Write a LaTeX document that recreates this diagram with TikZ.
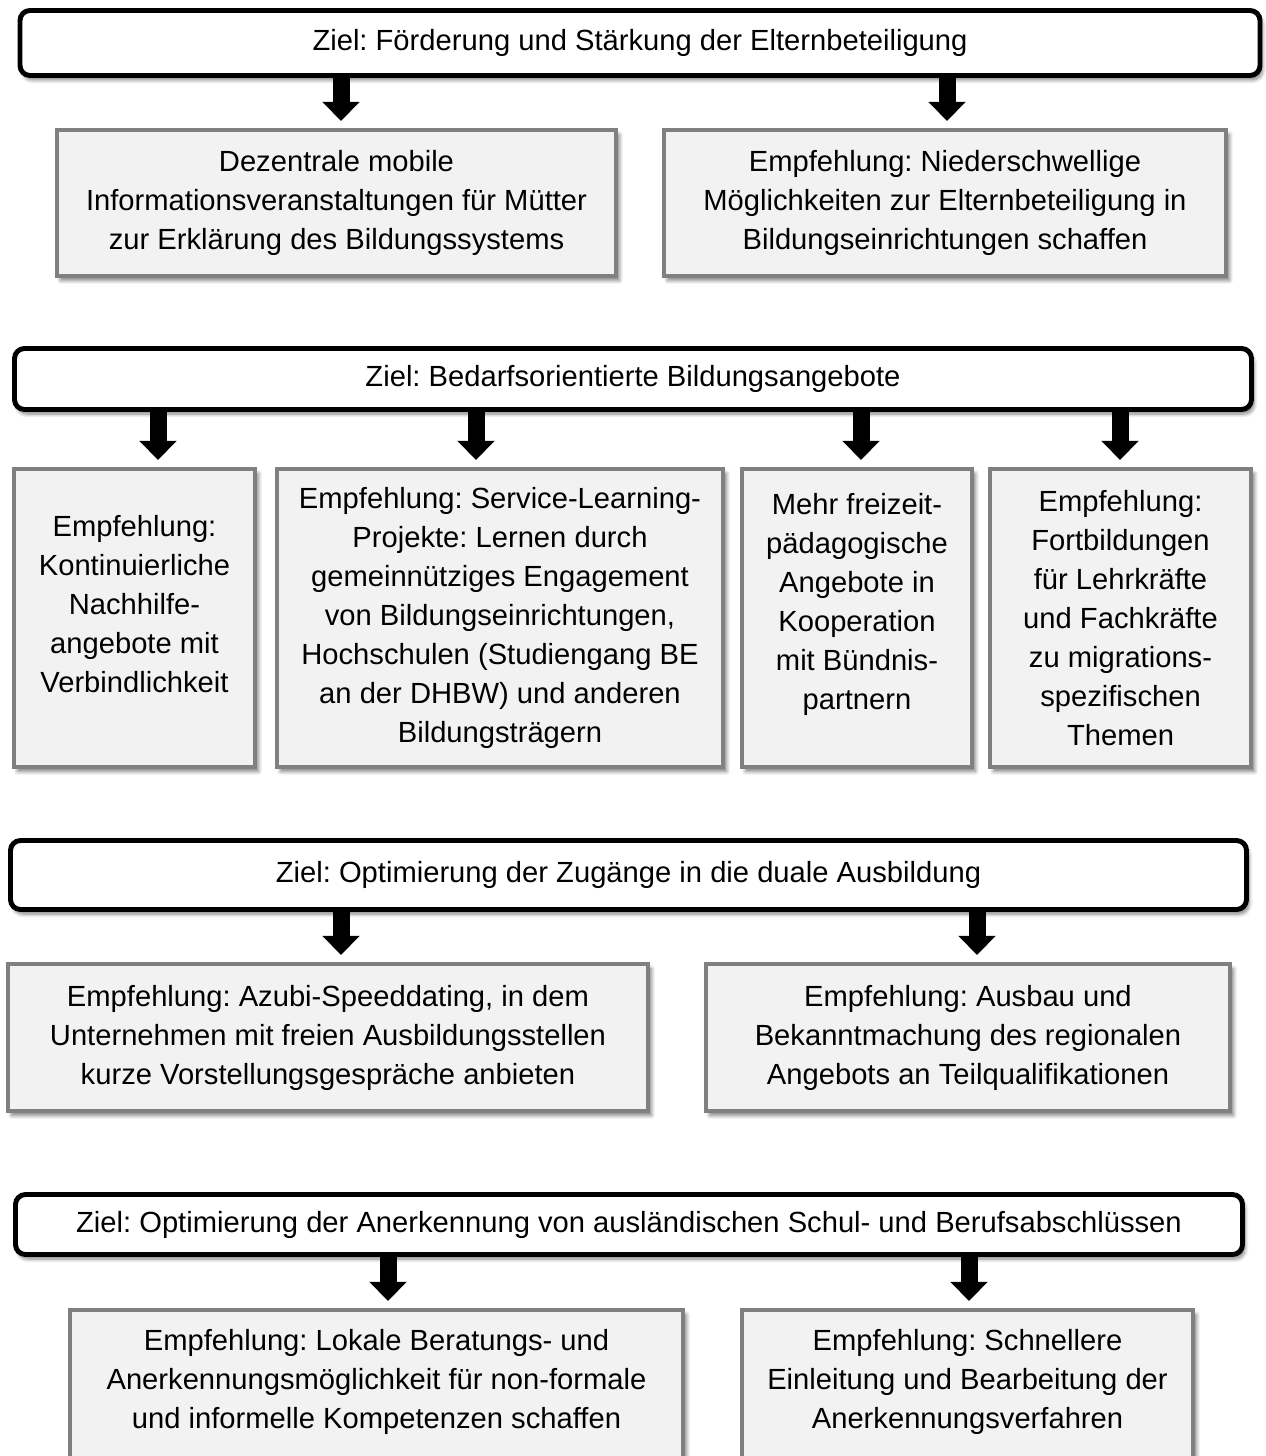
\documentclass[tikz,border=0pt]{standalone}
\usepackage{fontspec}
\setmainfont{Liberation Sans}
\usetikzlibrary{arrows.meta,shadows.blur}
\frenchspacing

\begin{document}
\begin{tikzpicture}[x=0.02cm,y=-0.02cm,
    every node/.style={font=\fontsize{16.6}{22.2}\selectfont, align=center, inner sep=0pt},
    zielbox/.style 2 args={draw=black, line width=2.8pt, rounded corners=0.2cm, fill=white,
        minimum width=#1*0.02cm, minimum height=#2*0.02cm,
        blur shadow={shadow xshift=0.05cm, shadow yshift=-0.09cm, shadow blur steps=6, shadow opacity=50}},
    recbox/.style 2 args={draw=black!50, line width=2.3pt, fill=black!5,
        minimum width=#1*0.02cm, minimum height=#2*0.02cm,
        blur shadow={shadow xshift=0.07cm, shadow yshift=-0.09cm, shadow blur steps=6, shadow opacity=50}},
    pfeil/.style={line width=0.34cm, -{Triangle[width=0.72cm,length=0.38cm]}, shorten >=0.14cm}]
    \useasboundingbox (0,0) rectangle (1266,1456);

    % Ziel 1
    \node[zielbox={1240}{65}] (ziel1) at (640,43) {Ziel: Förderung und Stärkung der Elternbeteiligung};
    \node[recbox={559}{146}] (r11) at (336.5,203) {Dezentrale mobile\\Informationsveranstaltungen für Mütter\\zur Erklärung des Bildungssystems};
    \node[recbox={562}{146}] (r12) at (945,203) {Empfehlung: Niederschwellige\\Möglichkeiten zur Elternbeteiligung in\\Bildungseinrichtungen schaffen};

    % Ziel 2
    \node[zielbox={1237}{61}] (ziel2) at (633,379) {Ziel: Bedarfsorientierte Bildungsangebote};
    \node[recbox={241}{298}] (r21) at (134.5,618) {};
    \node (t21) at ([yshift=0.28cm]r21.center) {Empfehlung:\\Kontinuierliche\\Nachhilfe-\\angebote mit\\Verbindlichkeit};
    \node[recbox={446}{298}] (r22) at (500,618) {Empfehlung: Service-Learning-\\Projekte: Lernen durch\\gemeinnütziges Engagement\\von Bildungseinrichtungen,\\Hochschulen (Studiengang BE\\an der DHBW) und anderen\\Bildungsträgern};
    \node[recbox={230}{298}] (r23) at (857,618) {};
    \node (t23) at ([yshift=0.28cm]r23.center) {Mehr freizeit-\\pädagogische\\Angebote in\\Kooperation\\mit Bündnis-\\partnern};
    \node[recbox={261}{298}] (r24) at (1120.5,618) {Empfehlung:\\Fortbildungen\\für Lehrkräfte\\und Fachkräfte\\zu migrations-\\spezifischen\\Themen};

    % Ziel 3
    \node[zielbox={1236}{69}] (ziel3) at (628.5,875) {Ziel: Optimierung der Zugänge in die duale Ausbildung};
    \node[recbox={640}{147}] (r31) at (328,1037.5) {Empfehlung: Azubi-Speeddating, in dem\\Unternehmen mit freien Ausbildungsstellen\\kurze Vorstellungsgespräche anbieten};
    \node[recbox={524}{147}] (r32) at (968,1037.5) {Empfehlung: Ausbau und\\Bekanntmachung des regionalen\\Angebots an Teilqualifikationen};

    % Ziel 4 (Kästen unten abgeschnitten)
    \node[zielbox={1227}{60}] (ziel4) at (629,1224.5) {Ziel: Optimierung der Anerkennung von ausländischen Schul- und Berufsabschlüssen};
    \node[recbox={613}{166}] (r41) at (376.5,1393) {};
    \node (t41) at ([yshift=0.22cm]r41.center) {Empfehlung: Lokale Beratungs- und\\Anerkennungsmöglichkeit für non-formale\\und informelle Kompetenzen schaffen};
    \node[recbox={451}{166}] (r42) at (967.5,1393) {};
    \node (t42) at ([yshift=0.22cm]r42.center) {Empfehlung: Schnellere\\Einleitung und Bearbeitung der\\Anerkennungsverfahren};

    % Pfeile
    \foreach \z/\r/\x in {ziel1/r11/341, ziel1/r12/947, ziel2/r21/158, ziel2/r22/476,
        ziel2/r23/861, ziel2/r24/1120, ziel3/r31/341, ziel3/r32/977, ziel4/r41/388, ziel4/r42/969}{
        \coordinate (px) at (\x,0);
        \draw[pfeil] (\z.south -| px) -- (\r.north -| px);
    }
\end{tikzpicture}
\end{document}
